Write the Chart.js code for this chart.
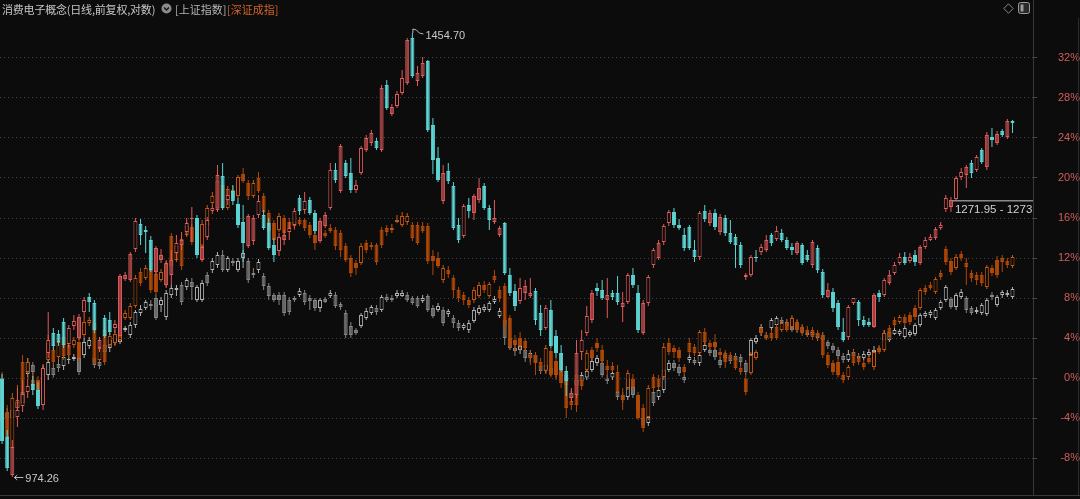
<!DOCTYPE html>
<html>
<head>
<meta charset="utf-8">
<script src="https://cdn.jsdelivr.net/npm/chart.js@4.4.1/dist/chart.umd.min.js"></script>
<style>
  html, body { margin: 0; padding: 0; background: #0c0c0c; overflow: hidden; }
  #wrap { position: relative; width: 1080px; height: 499px; }
  #chart { position: absolute; left: 0; top: 0; }
  .head { position: absolute; top: 1px; height: 16px; line-height: 16px; font: 11px "Noto Sans CJK SC", sans-serif; white-space: nowrap; }
  #title { left: 2px; color: #c6c6c6; letter-spacing: -0.2px; }
  #sh { left: 175px; color: #b4b4b4; }
  #sz { left: 227px; color: #d2642a; }
  .icon { position: absolute; }
</style>
</head>
<body>
<div id="wrap">
  <canvas id="chart" width="1080" height="499"></canvas>
  <span class="head" id="title">消费电子概念(日线,前复权,对数)</span>
  <svg class="icon" style="left:161px;top:3px" width="11" height="11"><circle cx="5.5" cy="5.5" r="5" fill="#8c8c8c"/><path d="M3 4.5 L5.5 7 L8 4.5" stroke="#161616" stroke-width="1.4" fill="none"/></svg>
  <span class="head" id="sh">[上证指数]</span>
  <span class="head" id="sz">[深证成指]</span>
  <svg class="icon" style="left:1003px;top:3px" width="11" height="11"><path d="M5.5 0.8 L10.2 5.5 L5.5 10.2 L0.8 5.5 Z" stroke="#8a8a8a" stroke-width="1" fill="none"/></svg>
  <svg class="icon" style="left:1018px;top:2px" width="12" height="12"><rect x="0.5" y="0.5" width="11" height="11" rx="2" stroke="#9a9a9a" fill="#2a2a2a"/><rect x="2.5" y="2.5" width="3" height="7" fill="#9a9a9a"/></svg>
</div>
<script>
// [open, high, low, close] in % from the base
var mainOHLC = [
  [0.0,0.4,-6.6,-6.3],[-5.9,-5.2,-9.3,-9.0],[-9.7,-6.2,-9.9,-6.9],[-3.9,-1.0,-4.9,-3.2],[-2.8,-0.2,-3.4,-1.6],
  [-1.4,0.0,-2.0,-0.8],[-0.6,0.2,-1.7,-1.2],[-1.2,-0.4,-3.1,-2.8],[-2.7,1.4,-3.2,1.0],[2.5,6.6,2.0,3.8],
  [4.5,5.0,2.8,3.2],[4.4,4.8,3.2,3.6],[5.6,6.0,3.0,3.3],[3.4,5.3,3.0,5.0],[5.2,6.3,4.8,5.7],
  [4.0,6.4,3.8,6.1],[6.6,8.1,6.0,7.8],[8.1,8.5,6.6,7.6],[7.5,7.8,4.5,4.8],[3.0,4.1,2.6,3.8],
  [6.0,6.3,4.0,4.2],[5.8,6.6,4.3,4.6],[5.0,5.8,4.5,5.4],[4.2,10.4,4.0,10.2],[9.9,10.6,9.7,10.3],
  [9.8,12.6,9.6,12.4],[12.9,16.0,12.6,15.7],[15.4,15.9,13.3,14.3],[14.8,15.2,12.5,14.6],[13.8,14.2,10.6,10.8],
  [10.6,13.2,10.3,13.0],[11.8,12.9,11.5,12.3],[9.3,11.7,9.0,11.5],[10.3,12.8,9.3,11.8],[12.5,14.3,11.8,13.5],
  [13.3,14.6,12.8,13.8],[14.6,16.0,14.2,15.5],[15.9,17.1,13.6,16.0],[16.0,16.3,12.0,12.3],[11.8,13.4,11.6,13.1],
  [14.1,16.1,13.8,15.8],[16.7,17.3,16.4,17.0],[16.8,21.3,16.6,20.3],[20.2,21.5,16.8,17.0],[17.8,18.8,17.3,18.3],
  [18.7,19.3,17.3,17.7],[17.4,18.0,15.0,15.3],[15.6,17.3,11.6,13.5],[13.2,16.4,13.0,16.2],[13.7,16.3,13.3,16.0],
  [16.3,18.3,16.0,17.7],[16.3,16.8,14.8,15.0],[15.5,16.0,12.8,13.0],[13.3,14.0,11.6,12.3],[12.7,14.5,12.2,14.1],
  [13.8,14.8,13.3,14.3],[14.6,15.6,13.8,15.0],[15.3,17.0,15.0,16.7],[18.0,18.3,16.3,16.7],[16.8,18.6,16.4,17.7],
  [17.8,18.1,16.3,16.5],[16.5,16.8,14.4,14.7],[13.7,16.0,13.5,15.7],[15.2,16.6,15.0,16.3],[17.0,21.5,16.8,20.8],
  [20.8,21.5,19.5,19.8],[18.7,23.4,18.5,23.2],[21.5,21.8,20.0,20.2],[20.5,22.0,18.5,18.8],[18.8,19.8,18.5,19.3],
  [20.5,23.2,20.3,23.0],[22.8,24.3,22.6,24.0],[23.5,24.8,23.2,24.5],[23.7,24.0,22.8,23.0],[22.8,29.3,22.6,29.0],
  [29.3,29.8,26.8,27.0],[26.4,27.4,26.2,27.1],[27.2,28.7,27.0,28.4],[28.5,30.8,28.3,30.0],[29.5,34.0,29.3,33.8],
  [34.0,34.5,30.0,30.2],[29.7,31.2,29.2,30.5],[30.2,32.1,30.0,31.5],[31.7,31.8,24.6,24.8],[25.3,26.0,20.4,21.8],
  [22.0,23.1,19.6,19.8],[17.7,21.3,17.4,20.5],[20.7,21.5,19.4,19.7],[19.2,19.6,14.8,15.0],[15.3,16.0,13.5,13.8],
  [14.2,17.4,14.0,17.2],[17.3,18.0,16.0,16.7],[16.5,18.4,15.8,18.2],[17.8,20.0,17.5,19.0],[19.2,19.5,16.8,17.0],
  [17.0,17.3,14.8,15.8],[15.6,17.8,15.4,16.0],[14.3,15.2,14.1,15.0],[15.5,15.6,10.3,10.5],[10.3,11.0,8.2,8.5],
  [8.7,9.4,6.7,7.2],[7.7,10.0,7.4,9.0],[8.5,9.8,7.8,9.2],[8.2,10.0,8.0,8.5],[8.7,9.0,5.3,5.8],
  [6.5,7.3,4.2,4.8],[5.0,7.3,4.8,7.0],[6.8,7.8,3.0,3.2],[4.2,4.8,2.0,2.5],[2.5,3.3,0.6,0.8],
  [0.7,1.2,-1.8,-0.3],[-2.0,-1.0,-2.4,-1.5],[-1.7,3.8,-2.0,2.5],[2.6,4.8,1.8,3.8],[4.5,7.2,4.2,6.2],
  [5.8,8.8,5.5,8.5],[9.0,9.5,8.2,8.7],[8.8,9.8,7.8,8.0],[7.8,10.0,6.0,8.3],[8.5,8.8,7.8,8.1],
  [8.5,10.2,7.3,7.6],[7.1,8.6,5.6,7.5],[7.6,10.5,7.4,10.3],[10.3,11.0,9.0,9.3],[8.5,9.3,4.5,4.8],
  [4.5,7.8,4.3,7.5],[7.5,10.3,7.2,10.1],[11.3,13.0,11.0,12.8],[12.0,13.8,11.8,13.5],[13.6,15.4,13.3,15.2],
  [15.5,16.8,15.2,16.6],[16.6,17.0,15.0,15.3],[15.3,15.9,14.8,15.0],[14.3,15.0,12.7,13.0],[15.1,15.3,12.8,13.0],
  [12.8,13.8,11.6,12.1],[12.1,16.7,11.8,16.5],[16.7,17.3,15.6,15.9],[15.5,16.8,15.2,16.5],[16.5,16.9,14.8,15.1],
  [14.6,16.4,14.3,16.1],[16.0,16.3,14.2,14.5],[14.5,15.8,13.4,13.6],[14.1,14.4,11.0,13.3],[13.3,13.6,11.0,11.3],
  [10.1,10.5,9.8,10.3],[10.3,12.3,10.1,12.1],[12.1,12.8,11.6,12.0],[12.6,13.4,12.3,13.1],[12.8,14.3,12.6,13.8],
  [14.3,14.5,13.2,13.5],[13.9,15.2,13.7,14.7],[14.5,14.9,13.6,13.8],[13.8,14.1,12.8,13.0],[13.1,13.5,12.3,12.8],
  [12.5,13.7,12.3,13.5],[13.3,13.5,11.3,11.5],[12.3,12.8,11.6,11.8],[11.3,13.8,11.0,13.6],[13.0,13.3,10.5,10.8],
  [10.6,10.9,8.0,8.3],[8.1,9.5,8.0,8.8],[8.6,9.0,6.6,7.0],[7.5,7.8,4.8,5.1],[4.6,6.0,3.6,3.8],
  [4.1,7.3,3.8,7.1],[7.5,8.0,7.3,8.0],[7.6,7.8,5.2,5.8],[5.8,6.2,5.1,5.3],[5.6,6.0,5.1,5.3],
  [5.1,8.5,5.0,8.3],[8.5,8.8,7.6,8.1],[8.3,10.0,8.1,9.8],[9.5,10.8,9.3,10.3],[10.5,11.6,10.3,11.3],
  [11.5,12.5,11.3,12.1],[12.1,12.6,11.3,11.5],[11.7,12.5,11.5,12.1],[12.3,12.8,11.2,11.6],[11.5,13.3,11.3,13.1],
  [13.1,14.1,12.9,13.8],[13.8,14.4,13.7,14.1],[14.0,15.1,13.8,14.9],[15.0,15.6,14.8,15.3],[16.9,18.3,16.6,18.0],
  [17.1,18.1,16.6,17.8],[17.9,20.2,17.8,20.0],[20.1,21.0,19.8,20.6],[20.3,21.3,19.0,21.1],[21.5,21.8,20.0,20.5],
  [20.8,22.3,20.6,22.1],[22.8,23.0,21.4,21.6],[21.1,24.6,20.8,24.3],[24.1,25.0,23.1,23.8],[23.5,24.7,23.3,24.4],
  [24.7,24.9,24.1,24.3],[24.1,25.9,23.9,25.7],[25.7,25.8,24.5,25.5]
];

// 上证指数
var shOHLC = [
  [-2.7,-2.2,-4.2,-3.7],[-3.5,-3.0,-4.4,-4.0],[-4.0,-2.7,-4.7,-3.2],[-3.0,-2.0,-3.4,-2.4],[-2.5,-1.0,-2.8,-1.4],
  [0.4,2.0,0.0,1.6],[1.3,1.6,-0.2,0.6],[-0.5,-0.2,-1.7,-1.2],[-0.7,1.2,-1.4,0.8],[0.3,2.0,-0.2,1.6],
  [1.0,1.5,0.0,0.3],[1.4,1.8,0.6,1.0],[1.2,2.4,0.8,2.1],[1.8,2.3,1.4,1.9],[1.9,2.4,1.7,2.1],
  [2.0,2.3,0.3,0.6],[2.3,4.0,2.0,3.6],[3.2,4.1,2.9,3.8],[2.0,2.3,1.0,1.3],[1.6,2.0,0.9,1.2],
  [2.6,3.5,2.2,3.3],[3.0,4.2,2.6,3.8],[3.6,4.3,3.3,4.0],[3.6,5.2,3.4,4.8],[4.8,5.2,4.6,5.0],
  [4.3,5.6,4.0,5.3],[5.3,6.8,5.0,6.6],[6.5,7.3,6.2,6.9],[7.0,7.8,6.8,7.6],[7.4,7.8,6.8,7.2],
  [8.0,8.3,5.8,6.0],[7.3,8.1,6.6,7.8],[6.1,8.8,5.8,8.5],[8.3,9.3,8.0,9.0],[8.8,9.3,8.2,9.0],
  [9.3,9.6,7.3,7.6],[9.1,10.0,8.8,9.8],[9.6,10.0,7.8,9.1],[7.8,9.3,7.6,9.1],[7.8,9.8,7.6,9.5],
  [10.3,10.6,9.2,9.5],[10.8,12.0,10.5,11.7],[11.3,12.6,11.0,12.3],[12.3,12.8,10.6,10.8],[10.8,12.2,10.6,12.0],
  [11.7,12.0,11.2,11.5],[10.8,12.0,10.6,11.7],[12.0,12.8,11.0,12.5],[11.7,12.0,9.5,9.8],[10.5,11.0,10.0,10.3],
  [10.8,11.9,10.5,11.6],[10.2,10.5,8.8,9.2],[9.2,9.5,7.8,8.2],[8.3,8.5,7.6,7.8],[8.3,8.6,7.3,7.8],
  [8.3,8.6,6.2,6.5],[7.8,8.1,6.3,6.6],[8.0,8.2,7.6,7.8],[8.3,9.0,8.1,8.7],[8.5,8.8,7.3,7.6],
  [8.0,8.3,6.8,7.7],[7.8,8.0,6.7,7.0],[7.0,8.0,6.6,7.8],[7.9,8.1,7.5,7.6],[8.2,8.8,8.0,8.5],
  [8.3,8.6,7.0,7.2],[7.4,7.6,6.8,7.1],[6.5,6.8,4.0,4.3],[5.2,5.6,4.0,4.3],[4.8,5.0,4.3,4.5],
  [5.2,6.5,5.0,6.3],[6.0,7.0,5.8,6.7],[6.5,7.3,6.3,7.1],[7.0,7.3,6.3,6.6],[6.8,8.3,6.6,8.1],
  [8.1,8.4,7.6,7.8],[8.0,8.3,7.6,7.8],[8.2,8.8,8.0,8.5],[8.2,8.8,8.1,8.5],[8.3,8.6,7.6,7.8],
  [8.0,8.2,7.3,7.5],[8.0,8.2,7.0,7.2],[7.7,8.3,7.5,8.0],[8.2,8.4,6.6,6.8],[7.0,7.3,6.0,6.2],
  [6.8,7.5,6.6,7.2],[6.8,7.1,5.2,5.5],[6.4,6.9,6.1,6.7],[6.0,6.3,5.0,5.5],[5.5,5.8,4.7,5.0],
  [5.0,5.5,4.8,5.3],[4.8,5.8,4.5,5.5],[5.7,7.1,5.5,6.8],[6.5,7.3,6.3,7.0],[6.8,7.4,6.6,7.1],
  [6.8,7.7,6.6,7.5],[7.6,8.2,7.4,7.9],[6.2,7.0,6.0,6.7],[5.8,6.2,3.3,4.0],[4.0,4.3,2.8,3.0],
  [3.0,3.3,2.2,2.7],[2.8,3.4,2.4,3.2],[2.8,3.0,1.6,2.0],[2.0,2.8,1.6,2.5],[2.3,2.6,1.2,1.6],
  [1.2,1.6,0.4,0.7],[0.8,1.6,0.5,1.3],[1.0,1.3,0.2,0.5],[0.8,1.1,0.0,0.3],[0.6,1.0,-0.2,0.2],
  [0.3,0.6,-1.0,-0.7],[-2.0,-1.2,-2.2,-1.5],[-0.7,0.3,-1.0,-0.2],[-0.3,0.6,-0.6,0.3],[0.0,1.0,-0.2,0.7],
  [0.8,2.0,0.6,1.7],[1.5,2.3,1.2,2.0],[1.5,1.8,0.0,0.3],[0.0,0.3,-0.6,-0.3],[0.0,0.8,-0.2,0.5],
  [-1.4,-1.2,-2.2,-1.9],[-1.7,-1.4,-2.5,-2.2],[-1.9,0.3,-2.2,0.0],[-0.9,-0.7,-2.0,-1.7],[-2.2,-1.9,-3.5,-3.2],
  [-4.0,-3.7,-5.0,-4.7],[-4.5,-3.6,-4.8,-3.9],[-1.4,-1.2,-2.8,-2.5],[-1.9,-1.0,-2.2,-1.2],[-1.2,1.0,-1.5,0.8],
  [0.8,1.8,0.6,1.5],[1.5,1.8,0.7,1.0],[1.1,1.4,0.2,0.5],[0.1,0.3,-0.5,-0.2],[1.8,2.3,1.5,2.1],
  [1.8,2.1,1.3,1.5],[1.5,2.6,1.2,2.3],[2.8,3.6,2.6,3.3],[2.8,3.0,2.2,2.5],[2.8,3.1,1.8,2.1],
  [1.8,2.1,1.0,1.3],[2.0,2.6,1.6,2.3],[2.1,2.4,1.4,1.7],[2.2,2.5,1.6,1.8],[2.1,2.4,1.2,1.6],
  [1.5,1.8,0.3,0.6],[2.3,4.0,2.1,3.8],[3.6,4.3,3.4,4.0],[4.5,5.4,4.2,5.1],[4.3,4.6,3.8,4.0],
  [5.0,6.0,4.8,5.8],[5.3,6.2,5.0,6.0],[5.8,6.1,5.3,5.5],[5.6,5.9,5.0,5.2],[5.8,6.1,4.6,4.8],
  [5.5,5.8,4.5,4.8],[5.1,5.3,4.4,4.6],[4.5,4.7,4.1,4.3],[4.3,4.8,4.1,4.6],[4.5,4.7,3.7,4.0],
  [4.3,4.6,3.5,3.8],[3.6,3.8,2.9,3.2],[3.2,3.5,2.5,2.8],[2.8,3.1,1.9,2.2],[2.2,2.5,1.5,1.8],
  [1.8,2.8,1.6,2.4],[2.6,2.9,1.9,2.2],[2.2,2.5,1.7,2.0],[2.0,2.7,1.8,2.4],[2.3,2.9,2.1,2.6],
  [2.6,3.2,2.4,2.8],[3.0,3.2,2.6,2.8],[3.8,4.8,3.6,4.5],[3.8,4.8,3.6,4.6],[4.4,5.0,4.3,4.8],
  [4.4,4.9,4.2,4.7],[4.1,5.2,3.9,5.0],[4.3,4.8,4.1,4.6],[4.4,5.5,4.2,5.3],[5.3,6.5,5.1,6.3],
  [6.2,6.7,6.0,6.5],[6.3,6.8,6.0,6.6],[6.0,7.0,5.8,6.8],[7.0,7.8,6.8,7.6],[7.8,9.3,7.6,9.1],
  [7.9,8.1,6.9,7.1],[7.1,8.5,6.8,8.3],[8.1,8.9,7.9,8.6],[8.0,8.2,6.5,6.8],[7.0,7.2,6.3,6.5],
  [6.6,7.1,6.4,6.8],[6.5,7.5,6.3,7.3],[6.4,8.0,6.2,7.8],[8.3,8.6,7.8,8.1],[7.3,8.3,7.1,8.1],
  [8.3,8.8,8.0,8.6],[8.3,8.8,8.1,8.5],[8.1,9.1,7.9,8.9]
];

// 深证成指
var szOHLC = [
  [0.0,0.6,-4.7,-4.4],[-3.4,-2.7,-6.2,-5.9],[-7.0,-1.5,-7.4,-2.0],[-3.0,-0.7,-3.4,-2.2],[1.6,2.3,-2.8,-2.4],
  [0.6,2.0,0.0,1.6],[-0.2,0.6,-1.2,-0.8],[-0.2,0.2,-1.7,-1.4],[-2.2,1.3,-2.7,1.0],[1.8,4.3,1.6,3.5],
  [2.8,3.1,1.3,1.6],[2.1,4.0,1.8,3.6],[4.1,4.5,1.8,2.2],[3.3,3.8,2.0,2.3],[3.3,4.1,3.0,3.8],
  [3.6,4.0,1.6,2.0],[4.3,6.0,4.0,5.6],[5.5,6.1,5.2,5.8],[5.5,5.8,1.3,1.6],[1.8,3.3,1.5,3.0],
  [4.8,5.2,1.3,1.6],[3.3,4.5,3.1,4.2],[3.5,4.8,3.2,4.4],[3.8,6.5,3.6,6.2],[6.0,6.8,5.8,6.5],
  [6.0,7.5,5.8,7.2],[7.2,10.3,7.0,10.0],[10.6,11.0,9.2,9.5],[10.0,11.3,9.8,11.0],[10.8,11.2,8.5,8.8],
  [10.4,10.8,8.3,8.6],[9.8,10.9,9.6,10.6],[9.3,11.8,9.1,11.4],[14.2,14.5,10.8,11.2],[11.8,13.5,11.6,13.2],
  [13.9,14.2,10.8,11.2],[14.3,15.6,14.1,15.2],[15.1,15.4,13.3,13.6],[14.6,15.0,12.6,12.8],[13.1,15.8,12.9,15.4],
  [15.3,17.3,14.0,17.0],[17.5,18.6,17.3,18.2],[17.0,20.0,16.8,19.7],[19.3,19.6,16.8,17.1],[17.0,19.2,16.8,18.9],
  [18.8,19.2,17.8,18.0],[18.2,20.3,18.0,20.1],[20.4,21.0,19.5,19.7],[19.5,19.8,17.8,18.2],[18.2,19.8,18.0,19.5],
  [20.0,20.6,18.5,18.7],[18.2,18.5,16.3,16.6],[16.5,16.8,14.4,14.7],[15.5,15.8,13.4,13.8],[14.8,16.5,14.6,16.2],
  [16.0,16.3,14.2,14.5],[15.6,16.0,14.6,15.0],[15.6,15.9,14.8,15.2],[15.8,16.1,15.2,15.4],[15.8,16.0,14.7,15.0],
  [15.3,15.6,14.0,14.3],[14.3,14.8,12.8,13.5],[14.0,15.0,13.7,14.8],[14.5,14.8,14.0,14.2],[15.0,15.4,14.5,14.7],
  [14.8,15.1,12.8,13.2],[14.5,14.8,12.1,12.8],[13.2,13.5,11.6,11.8],[12.0,12.3,10.1,10.5],[11.5,11.8,10.3,11.0],
  [11.5,13.5,11.3,13.2],[13.5,13.8,12.5,12.8],[13.3,13.6,12.8,13.1],[13.3,13.5,11.3,11.6],[14.8,15.1,13.0,13.3],
  [15.0,15.3,14.2,14.6],[14.8,15.4,14.5,15.0],[15.6,16.3,15.5,15.8],[15.3,16.6,15.1,16.2],[15.6,16.5,15.3,16.2],
  [15.3,15.6,13.7,14.0],[15.3,15.6,13.3,13.5],[15.2,15.6,14.5,14.7],[15.2,15.5,11.4,11.7],[12.2,12.8,10.3,11.7],
  [12.0,12.6,11.0,11.2],[9.8,11.3,9.5,11.0],[10.8,11.2,10.0,10.4],[10.0,10.3,8.0,8.8],[8.8,9.1,7.6,8.0],
  [8.3,8.6,7.3,7.8],[7.8,8.1,7.0,7.3],[7.8,9.1,7.5,8.8],[8.2,9.6,8.0,9.3],[9.3,9.7,8.5,8.8],
  [8.2,9.6,8.0,9.4],[10.2,10.8,9.5,9.8],[8.8,9.2,7.6,8.0],[9.2,9.5,4.3,5.3],[6.0,6.3,2.8,3.2],
  [3.8,4.3,2.6,3.3],[4.0,4.6,2.8,3.2],[3.7,4.0,2.6,3.0],[2.3,2.8,1.3,2.0],[2.3,2.6,0.3,1.5],
  [1.6,2.0,0.6,1.1],[0.7,3.3,0.4,3.0],[2.7,3.0,0.0,0.3],[1.7,2.0,-0.2,0.3],[0.8,1.2,-1.0,-0.5],
  [-0.3,0.0,-4.0,-3.0],[-2.3,-1.7,-3.2,-2.7],[0.3,0.8,-3.4,-2.7],[-0.2,0.2,-1.2,-0.8],[0.8,2.8,0.6,2.5],
  [2.8,3.1,1.8,2.0],[3.5,4.0,2.6,3.0],[2.8,3.3,1.3,1.7],[1.2,1.8,0.0,0.8],[1.2,1.6,0.6,0.8],
  [0.6,1.3,-1.7,-1.4],[-1.7,-1.0,-3.2,-2.2],[-1.0,0.8,-1.2,0.5],[0.0,0.4,-1.2,-0.9],[-1.7,-1.4,-4.2,-4.0],
  [-3.0,-2.6,-5.4,-5.0],[-3.9,-0.7,-4.2,-1.0],[0.1,0.4,-1.4,-1.0],[0.0,0.3,-1.2,-0.9],[0.1,3.5,-0.2,3.1],
  [3.5,4.0,2.3,2.6],[3.0,3.3,2.0,2.6],[2.8,3.1,1.6,2.0],[1.1,1.4,0.3,0.6],[3.5,4.0,2.3,2.6],
  [3.1,3.4,2.2,2.5],[2.5,4.8,2.3,4.6],[4.6,5.0,3.3,3.6],[3.5,3.8,2.8,3.1],[3.6,4.4,2.8,3.1],
  [2.6,3.0,2.0,2.3],[2.5,2.8,1.0,1.6],[2.3,2.6,1.6,2.0],[2.0,2.3,0.8,1.0],[1.0,1.3,0.3,0.6],
  [0.0,0.3,-1.7,-1.4],[0.5,2.6,0.3,2.3],[2.0,2.8,1.8,2.6],[5.0,5.3,4.3,4.5],[4.3,4.6,3.8,4.0],
  [4.5,4.8,3.7,4.0],[5.1,5.4,3.8,4.0],[4.8,5.8,4.6,5.5],[5.5,5.8,4.6,4.8],[5.1,6.3,4.8,6.0],
  [5.6,5.9,4.6,4.8],[5.1,5.4,4.2,4.5],[4.8,5.2,4.2,4.5],[4.8,5.1,3.8,4.1],[4.5,4.8,3.8,4.1],
  [4.3,4.6,2.0,2.3],[2.3,2.6,1.0,1.3],[1.5,1.8,0.3,0.6],[1.6,2.0,0.0,0.3],[0.3,0.6,-0.5,-0.2],
  [0.1,1.3,-0.2,1.1],[2.5,2.8,1.2,1.5],[2.0,2.3,1.3,1.6],[1.5,1.8,0.8,1.1],[2.0,2.3,1.4,1.6],
  [1.1,2.8,0.8,2.6],[3.0,3.3,2.4,2.6],[2.8,4.8,2.6,4.5],[5.0,5.3,3.8,4.1],[5.8,6.1,5.0,5.3],
  [5.6,6.3,5.4,6.1],[6.1,6.4,5.2,5.5],[6.3,6.6,5.3,5.6],[7.0,7.3,5.8,6.1],[7.0,9.0,6.8,8.8],
  [9.0,9.3,8.3,8.6],[9.3,9.6,8.8,9.0],[8.6,10.1,8.4,9.9],[10.5,10.8,9.8,10.1],[12.9,13.2,11.3,11.6],
  [11.7,12.0,10.3,10.6],[11.0,12.4,10.8,12.1],[12.4,12.7,11.7,12.0],[11.5,12.0,9.3,11.1],[10.5,10.8,9.6,10.0],
  [10.3,10.6,9.3,9.8],[10.3,10.6,9.2,9.5],[9.1,11.3,8.9,11.1],[11.0,11.3,10.2,10.5],[11.8,12.2,10.0,10.3],
  [12.0,12.3,10.6,11.6],[11.7,12.0,11.0,11.3],[11.2,12.3,11.0,12.1]
];

var yTicks = [-8, -4, 0, 4, 8, 12, 16, 20, 24, 28, 32];
var mainBase = 1080.8;
var highText = "1454.70";
var lowText = "974.26";
var gapPrices = [1271.95, 1273.6];

var BG = "#0c0c0c";
var RED = "#e05b5b";
var MAROON = "#9a4040";
var CYAN = "#5dd5d5";

function mainStyle(rows, i) {
  var r = rows[i];
  var prevClose = i > 0 ? rows[i - 1][3] : r[0];
  if (r[3] < r[0]) return { line: CYAN, fill: CYAN };
  if (r[0] < prevClose) return { line: RED, fill: MAROON };
  return { line: RED, fill: BG };
}

function shStyle(rows, i) {
  var r = rows[i];
  if (r[3] < r[0]) return { line: "#858585", fill: "#6a6a6a" };
  return { line: "#b2b2b2", fill: BG };
}

function szStyle(rows, i) {
  var r = rows[i];
  if (r[3] < r[0]) return { line: "#b04807", fill: "#b04807" };
  return { line: "#c8570e", fill: BG };
}

function candleDatasets(rows, styleOf, order) {
  var styles = rows.map(function (r, i) {
    return styleOf(rows, i);
  });
  return [
    {
      data: rows.map(function (r, i) {
        return { x: i, y: [r[2], r[1]] };
      }),
      backgroundColor: styles.map(function (s) { return s.line; }),
      borderWidth: 0,
      barThickness: 1,
      minBarLength: 1,
      grouped: false,
      inflateAmount: 0,
      order: order + 1,
    },
    {
      data: rows.map(function (r, i) {
        return { x: i, y: [Math.min(r[0], r[3]), Math.max(r[0], r[3])] };
      }),
      backgroundColor: styles.map(function (s) { return s.fill; }),
      borderColor: styles.map(function (s) { return s.line; }),
      borderWidth: 1,
      borderSkipped: false,
      barThickness: 4,
      minBarLength: 1,
      grouped: false,
      inflateAmount: 0,
      order: order,
    },
  ];
}

var marksPlugin = {
  id: "marks",
  afterDatasetsDraw: function (chart) {
    var ctx = chart.ctx;
    var xs = chart.scales.x;
    var ys = chart.scales.y;
    var area = chart.chartArea;
    var hi = 0, lo = 0;
    mainOHLC.forEach(function (r, i) {
      if (r[1] > mainOHLC[hi][1]) hi = i;
      if (r[2] < mainOHLC[lo][2]) lo = i;
    });

    ctx.save();
    ctx.font = "11px 'Liberation Sans', Arial, sans-serif";
    ctx.textBaseline = "middle";
    ctx.fillStyle = "#c8c8c8";
    ctx.strokeStyle = "#b8b8b8";
    ctx.lineWidth = 1;

    // highest price flag
    var hx = xs.getPixelForValue(hi);
    var hy = ys.getPixelForValue(mainOHLC[hi][1]);
    ctx.beginPath();
    ctx.moveTo(hx + 0.5, hy);
    ctx.lineTo(hx + 0.5, hy - 4);
    ctx.lineTo(hx + 4, hy - 3);
    ctx.lineTo(hx + 7, hy);
    ctx.lineTo(hx + 11, hy + 1);
    ctx.stroke();
    ctx.fillText(highText, hx + 13, hy + 3);

    // lowest price arrow
    var lx = xs.getPixelForValue(lo);
    var ly = Math.round(ys.getPixelForValue(mainOHLC[lo][2])) + 0.5;
    ctx.beginPath();
    ctx.moveTo(lx + 2, ly);
    ctx.lineTo(lx + 11, ly);
    ctx.moveTo(lx + 2, ly);
    ctx.lineTo(lx + 5, ly - 2.5);
    ctx.moveTo(lx + 2, ly);
    ctx.lineTo(lx + 5, ly + 2.5);
    ctx.stroke();
    ctx.fillText(lowText, lx + 13, ly + 1);

    // gap line
    var gy = Math.round(ys.getPixelForValue((gapPrices[0] / mainBase - 1) * 100));
    var gx = xs.getPixelForValue(185) + 1;
    ctx.beginPath();
    ctx.rect(area.left, area.top, area.right - area.left, area.bottom - area.top);
    ctx.clip();
    ctx.fillStyle = "#8a8a8a";
    ctx.fillRect(gx, gy - 1, area.right - gx, 1.5);
    ctx.fillStyle = "#d2d2d2";
    ctx.font = "11.5px 'Liberation Sans', Arial, sans-serif";
    ctx.fillText(gapPrices[0].toFixed(2) + " - " + gapPrices[1].toFixed(2), gx + 3, gy + 9);
    ctx.restore();

    // frame lines
    ctx.save();
    ctx.fillStyle = "#383838";
    ctx.fillRect(0, 495, 1080, 1);
    ctx.fillRect(Math.round(area.right), 0, 1, area.top);
    ctx.fillStyle = "#2c2c2c";
    ctx.fillRect(1078, 18, 1, 477);
    ctx.restore();
  },
};

var datasets = []
  .concat(candleDatasets(shOHLC, shStyle, 5))
  .concat(candleDatasets(szOHLC, szStyle, 3))
  .concat(candleDatasets(mainOHLC, mainStyle, 1));

new Chart(document.getElementById("chart"), {
  type: "bar",
  data: { datasets: datasets },
  options: {
    responsive: false,
    animation: false,
    events: [],
    layout: { padding: { top: 20, bottom: 4, left: 0, right: 0 } },
    plugins: {
      legend: { display: false },
      tooltip: { enabled: false },
    },
    scales: {
      x: {
        type: "linear",
        display: false,
        offset: false,
        min: -0.4,
        max: 201,
      },
      y: {
        type: "linear",
        position: "right",
        min: -11.7,
        max: 35.8,
        afterFit: function (scale) {
          scale.width = 47;
          scale.paddingTop = 0;
          scale.paddingBottom = 0;
        },
        afterBuildTicks: function (scale) {
          scale.ticks = yTicks.map(function (v) {
            return { value: v };
          });
        },
        grid: {
          color: "#444444",
          lineWidth: 1,
          drawTicks: true,
          tickLength: 4,
          tickColor: "#4a4a4a",
        },
        border: { display: true, color: "#383838", dash: [1, 3] },
        ticks: {
          color: "#d05d5d",
          padding: 14,
          crossAlign: "far",
          font: { family: "'Liberation Sans', Arial, sans-serif", size: 11 },
          callback: function (v) {
            return v + "%";
          },
        },
      },
    },
  },
  plugins: [marksPlugin],
});
</script>
</body>
</html>
